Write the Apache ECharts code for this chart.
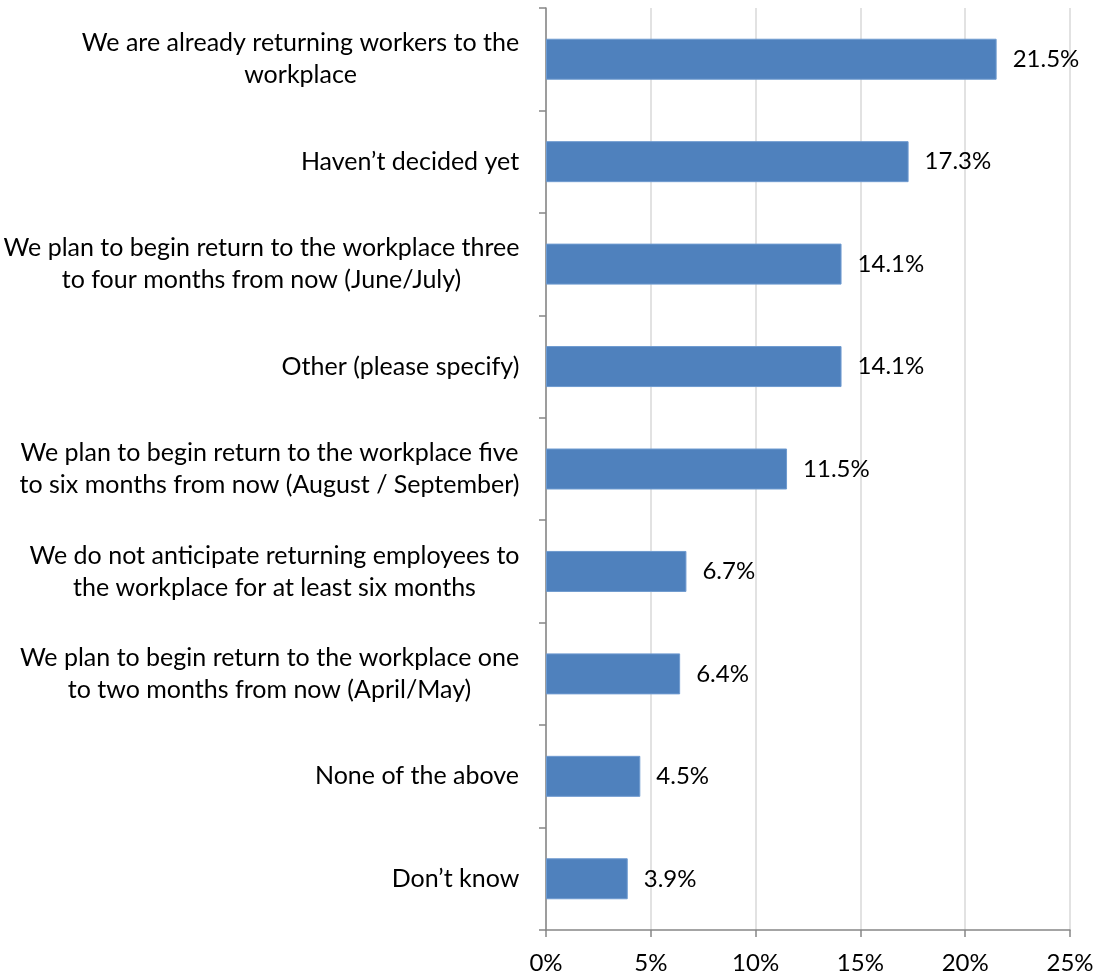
<!DOCTYPE html>
<html>
<head>
<meta charset="utf-8">
<script src="https://cdn.jsdelivr.net/npm/echarts@6/dist/echarts.min.js"></script>
<style>html,body{margin:0;padding:0;background:#fff}#c{width:1097px;height:979px}</style>
</head>
<body>
<div id="c"></div>
<script>
const categories = [
  "We are already returning workers to the\nworkplace",
  "Haven\u2019t decided yet",
  "We plan to begin return to the workplace three\nto four months from now (June/July)",
  "Other (please specify)",
  "We plan to begin return to the workplace five\nto six months from now (August / September)",
  "We do not anticipate returning employees to\nthe workplace for at least six months",
  "We plan to begin return to the workplace one\nto two months from now (April/May)",
  "None of the above",
  "Don\u2019t know"
];
const values = [21.5, 17.3, 14.1, 14.1, 11.5, 6.7, 6.4, 4.5, 3.9];
const xTicks = [0, 5, 10, 15, 20, 25];

const FONT = 'Lato';
const FS = 24;
const CFS = 25;
const cv = document.createElement('canvas').getContext('2d');
cv.font = CFS + 'px ' + FONT;
const rich = {};
categories.forEach((c, i) => {
  const w = Math.max(...c.split('\n').map(l => cv.measureText(l).width));
  rich['c' + i] = { width: Math.ceil(w) + 1, align: 'center', fontFamily: FONT, fontSize: CFS, color: '#000', lineHeight: 32 };
});

const chart = echarts.init(document.getElementById('c'), null, { renderer: 'canvas' });
chart.setOption({
  animation: false,
  textStyle: { fontFamily: FONT },
  grid: { left: 545, right: 27, top: 8, bottom: 49, containLabel: false },
  xAxis: {
    type: 'value', min: 0, max: 25, interval: 5,
    axisLine: { show: true, lineStyle: { color: '#868686', width: 1.5 } },
    axisTick: { show: true, length: 7, lineStyle: { color: '#868686', width: 1.5 } },
    splitLine: { show: true, lineStyle: { color: '#d9d9d9', width: 1.5 } },
    axisLabel: { formatter: v => v + '%', color: '#000', fontSize: FS, fontFamily: FONT, margin: 21 }
  },
  yAxis: {
    type: 'category', inverse: true, data: categories,
    axisLine: { show: true, lineStyle: { color: '#868686', width: 1.5 } },
    axisTick: { show: true, length: 7, lineStyle: { color: '#868686', width: 1.5 } },
    axisLabel: {
      margin: 26, align: 'right',
      formatter: (v, i) => '{c' + i + '|' + v + '}',
      rich: rich
    }
  },
  series: [{
    type: 'bar', data: values, barWidth: 41,
    itemStyle: { color: '#4f81bd', borderColor: '#6f9bd0', borderWidth: 1 },
    label: { show: true, position: 'right', distance: 16, formatter: p => p.value.toFixed(1) + '%', color: '#000', fontSize: FS, fontFamily: FONT }
  }]
});
</script>
</body>
</html>
